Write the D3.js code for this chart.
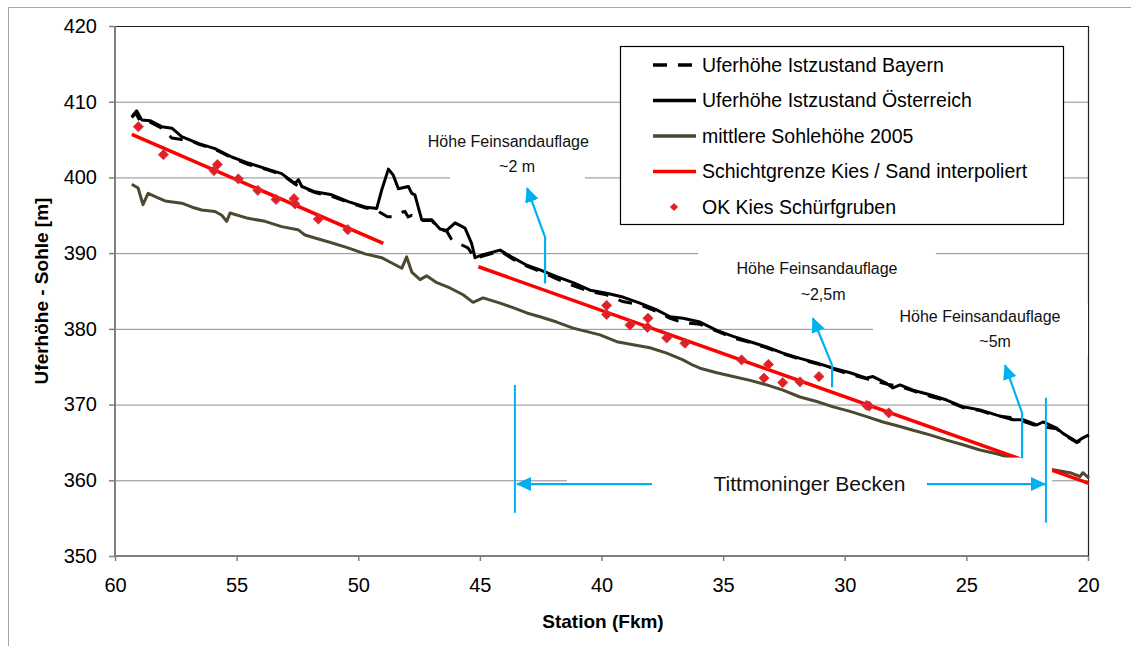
<!DOCTYPE html>
<html>
<head>
<meta charset="utf-8">
<script src="https://d3js.org/d3.v7.min.js"></script>
<style>
  body { margin: 0; background: #fff; }
  text { font-family: "Liberation Sans", Arial, sans-serif; }
</style>
</head>
<body>
<svg id="chart" width="1131" height="646"></svg>
<script>
// ticks
var kmTicks = [60, 55, 50, 45, 40, 35, 30, 25, 20];
var elevTicks = [350, 360, 370, 380, 390, 400, 410, 420];

// Uferhöhe Istzustand Bayern  [Fkm, m]
var uferBayern = [
  [59.31,407.9],[59.15,408.5],[58.95,407.3],[58.56,407.3],[58.08,406.5],[57.66,405.2],[57.26,405.0],
  [56.95,405.0],[56.58,404.4],[55.89,403.7],[55.20,402.6],[54.52,401.7],[53.83,401.1],[53.15,400.4],
  [52.60,399.1],[52.32,398.7],[51.78,398.0],[51.09,397.5],[50.41,396.7],[49.72,396.0],[49.24,395.7],
  [49.11,395.4],[48.80,394.8],[48.61,394.8],[48.40,395.1],[48.20,395.4],[48.08,395.5],[47.95,394.8],
  [47.80,395.0],[47.39,394.3],[46.98,394.3],[46.64,393.1],[46.36,392.9],[46.15,391.7],[45.82,391.2],
  [45.49,390.7],[45.20,389.3],[44.87,389.6],[44.17,390.3],[43.64,389.2],[43.07,388.3],[42.53,387.6],
  [41.84,386.6],[41.17,385.7],[40.47,384.9],[39.79,384.5],[39.12,383.6],[38.42,383.2],[37.73,382.3],
  [37.18,381.4],[36.65,380.8],[35.95,380.6],[35.26,379.7],[34.59,378.8],[33.89,378.2],[33.21,377.5],
  [32.54,376.7],[31.84,376.0],[31.15,375.4],[30.48,374.7],[29.78,374.0],[29.10,373.4],[28.28,372.7],
  [27.73,372.4],[27.19,371.8],[26.50,371.1],[25.81,370.5],[25.14,369.6],[24.44,369.2],[23.75,368.5],
  [23.20,368.3],[23.05,367.6],[22.67,367.8],[22.11,367.2],[21.29,366.8],[21.03,366.1],[20.46,365.0],
  [19.96,365.8]
];

// Uferhöhe Istzustand Österreich
var uferOesterreich = [
  [59.31,408.0],[59.11,408.8],[58.90,407.6],[58.56,407.5],[58.08,406.7],[57.66,406.5],[57.26,405.4],
  [56.58,404.5],[55.89,403.8],[55.20,402.7],[54.52,401.9],[53.83,401.2],[53.15,400.5],[52.60,399.2],
  [52.46,399.7],[52.32,398.8],[51.78,398.1],[51.09,397.7],[50.41,396.8],[49.72,396.1],[49.24,395.9],
  [49.04,398.3],[48.76,401.1],[48.56,400.3],[48.35,398.5],[47.94,398.8],[47.80,397.9],[47.67,397.7],
  [47.39,394.4],[46.98,394.4],[46.64,393.2],[46.36,393.0],[46.02,394.0],[45.61,393.3],[45.34,391.3],
  [45.20,389.4],[44.87,389.8],[44.17,390.4],[43.64,389.4],[43.07,388.4],[42.53,387.8],[41.84,386.9],
  [41.17,386.1],[40.47,385.1],[39.79,384.7],[39.12,384.2],[38.42,383.4],[37.73,382.5],[37.18,381.6],
  [36.65,381.4],[35.95,380.9],[35.26,379.8],[34.59,379.0],[33.89,378.3],[33.21,377.6],[32.54,376.8],
  [31.84,376.1],[31.15,375.5],[30.48,374.8],[29.78,374.2],[29.10,373.5],[28.84,373.7],[28.28,372.8],
  [28.02,372.2],[27.73,372.6],[27.19,371.9],[26.50,371.3],[25.81,370.6],[25.14,369.7],[24.44,369.3],
  [23.75,368.6],[23.08,368.0],[22.67,368.0],[22.11,367.3],[21.85,367.7],[21.29,366.9],[21.03,366.2],
  [20.46,365.1],[20.21,365.6],[19.96,366.0]
];

// mittlere Sohlehöhe 2005
var sohle2005 = [
  [59.31,399.1],[59.05,398.6],[58.85,396.4],[58.64,397.9],[58.23,397.3],[57.94,396.9],[57.26,396.6],
  [56.85,396.1],[56.44,395.7],[55.89,395.5],[55.61,395.0],[55.41,394.2],[55.27,395.3],[54.53,394.6],
  [53.83,394.2],[53.15,393.5],[52.48,393.1],[52.19,392.4],[51.78,392.0],[51.24,391.5],[50.42,390.7],
  [49.72,389.9],[49.04,389.4],[48.62,388.7],[48.21,388.0],[48.01,389.5],[47.80,387.5],[47.46,386.5],
  [47.19,387.0],[46.77,386.1],[46.23,385.4],[45.69,384.5],[45.28,383.5],[44.87,384.1],[44.17,383.4],
  [43.64,382.8],[43.07,382.1],[42.53,381.6],[41.84,380.9],[41.17,380.1],[40.06,379.2],[39.37,378.3],
  [38.70,377.9],[38.01,377.5],[37.32,376.8],[36.65,375.9],[36.24,375.2],[35.95,374.8],[35.26,374.2],
  [34.59,373.7],[33.89,373.2],[33.21,372.6],[32.54,371.9],[31.84,371.0],[31.15,370.4],[30.48,369.7],
  [29.78,369.1],[29.10,368.4],[28.43,367.7],[27.73,367.1],[27.19,366.6],[26.50,366.0],[25.81,365.3],
  [25.14,364.7],[24.44,364.0],[23.75,363.5],[23.21,363.0],[22.38,362.3],[21.44,361.4],[20.74,361.0],
  [20.33,360.5],[20.21,361.0],[19.96,360.3]
];

// Schichtgrenze Kies / Sand interpoliert (two segments)
var schichtgrenze = [[59.31,405.7],[48.97,391.3],null,[45.06,388.2],[19.96,359.6]];

// OK Kies Schürfgruben
var schuerfgruben = [
  [59.04,406.7],[58.01,403.0],[55.93,400.9],[55.79,401.7],[54.93,399.8],[54.13,398.3],[53.38,397.1],
  [52.64,397.2],[52.60,396.5],[51.64,394.5],[50.43,393.1],[39.79,383.1],[39.79,381.9],[38.83,380.5],
  [38.09,381.4],[38.11,380.2],[37.32,378.8],[36.57,378.1],[34.24,375.9],[33.14,375.3],[33.32,373.5],
  [32.55,372.9],[31.84,373.0],[31.06,373.7],[29.10,369.9],[29.00,369.8],[28.19,368.9]
];

var legendLabels = [
  "Uferhöhe Istzustand Bayern",
  "Uferhöhe Istzustand Österreich",
  "mittlere Sohlehöhe 2005",
  "Schichtgrenze Kies / Sand interpoliert",
  "OK Kies Schürfgruben"
];

// Textfelder: weiße Hintergründe (Fkm / m)
var textBoxes = [
  {x0: 46.23, x1: 40.68, y0: 406.5, y1: 399.7},
  {x0: 36.03, x1: 26.25, y0: 390.4, y1: 383.1},
  {x0: 28.84, x1: 20.0, y0: 383.4, y1: 376.5},
  {x0: 41.42, x1: 21.48, y0: 363.0, y1: 356.1}
];
var noteTexts = [
  {km: 43.83, m: 404.7, text: "Höhe Feinsandauflage", size: 16},
  {km: 43.47, m: 401.4, text: "~2 m", size: 16},
  {km: 31.14, m: 388.0, text: "Höhe Feinsandauflage", size: 16},
  {km: 30.89, m: 384.6, text: "~2,5m", size: 16},
  {km: 24.44, m: 381.6, text: "Höhe Feinsandauflage", size: 16},
  {km: 23.82, m: 378.3, text: "~5m", size: 16},
  {km: 31.45, m: 359.5, text: "Tittmoninger Becken", size: 21}
];
var blueLines = [
  [[43.56,372.6],[43.56,355.7]],
  [[21.73,370.9],[21.73,354.4]]
];
var blueArrows = [
  [[42.32,386.0],[42.32,392.1],[43.06,398.6]],
  [[30.52,372.3],[30.52,375.2],[31.31,381.4]],
  [[22.71,362.9],[22.71,368.9],[23.41,375.2]],
  [[37.92,359.5],[43.47,359.5]],
  [[26.62,359.5],[21.77,359.5]]
];

var svg = d3.select("#chart");

var x = d3.scaleLinear().domain([60, 20]).range([115, 1088]);
var y = d3.scaleLinear().domain([350, 420]).range([556, 26]);

// chart border
svg.append("rect").attr("x", 8.5).attr("y", 7.5).attr("width", 1140).attr("height", 660)
  .attr("fill", "#fff").attr("stroke", "#a6a6a6").attr("stroke-width", 1);

var defs = svg.append("defs");
defs.append("marker").attr("id", "arrow")
  .attr("markerUnits", "userSpaceOnUse")
  .attr("viewBox", "0 0 15 14").attr("refX", 14).attr("refY", 7)
  .attr("markerWidth", 15).attr("markerHeight", 14).attr("orient", "auto")
  .append("path").attr("d", "M0,0L15,7L0,14Z").attr("fill", "#00b0f0");

// gridlines
svg.append("g").selectAll("line").data(elevTicks.filter(function(d){ return d > 350 && d < 420; }))
  .enter().append("line")
    .attr("x1", x(60)).attr("x2", x(20))
    .attr("y1", function(d){ return y(d) + 0.5; }).attr("y2", function(d){ return y(d) + 0.5; })
    .attr("stroke", "#8c8c8c").attr("stroke-width", 1);

// plot frame top/right
svg.append("path")
  .attr("d", "M" + x(60) + "," + (y(420) + 0.5) + "H" + (x(20) + 0.5) + "V" + y(350))
  .attr("fill", "none").attr("stroke", "#222").attr("stroke-width", 1.2);

var line = d3.line()
  .defined(function(d){ return d; })
  .x(function(d){ return x(d[0]); })
  .y(function(d){ return y(d[1]); });

svg.append("path").datum(uferBayern).attr("d", line)
  .attr("fill", "none").attr("stroke", "#000").attr("stroke-width", 3)
  .attr("stroke-dasharray", "14,11");
svg.append("path").datum(uferOesterreich).attr("d", line)
  .attr("fill", "none").attr("stroke", "#000").attr("stroke-width", 3).attr("stroke-linejoin", "round");
svg.append("path").datum(sohle2005).attr("d", line)
  .attr("fill", "none").attr("stroke", "#4d4930").attr("stroke-width", 3).attr("stroke-linejoin", "round");
svg.append("path").datum(schichtgrenze).attr("d", line)
  .attr("fill", "none").attr("stroke", "#ff0000").attr("stroke-width", 3.5);

var diamond = d3.symbol().type(d3.symbolSquare).size(52);
svg.append("g").selectAll("path").data(schuerfgruben).enter().append("path")
  .attr("d", diamond)
  .attr("transform", function(d){ return "translate(" + x(d[0]) + "," + y(d[1]) + ") rotate(45)"; })
  .attr("fill", "#e31e24").attr("stroke", "#c8454a").attr("stroke-width", 0.8);

// white text boxes
svg.append("g").selectAll("rect").data(textBoxes).enter().append("rect")
  .attr("x", function(d){ return x(d.x0); })
  .attr("y", function(d){ return y(d.y0); })
  .attr("width", function(d){ return x(d.x1) - x(d.x0); })
  .attr("height", function(d){ return y(d.y1) - y(d.y0); })
  .attr("fill", "#fff");

svg.append("g").selectAll("text").data(noteTexts).enter().append("text")
  .attr("x", function(d){ return x(d.km); })
  .attr("y", function(d){ return y(d.m); })
  .attr("dy", "0.35em").attr("text-anchor", "middle")
  .style("font-size", function(d){ return d.size + "px"; })
  .attr("fill", "#111")
  .text(function(d){ return d.text; });

// blue lines and arrows
svg.append("g").selectAll("path").data(blueLines).enter().append("path")
  .attr("d", line).attr("fill", "none").attr("stroke", "#00b0f0").attr("stroke-width", 2);
svg.append("g").selectAll("path").data(blueArrows).enter().append("path")
  .attr("d", line).attr("fill", "none").attr("stroke", "#00b0f0").attr("stroke-width", 2.2)
  .attr("marker-end", "url(#arrow)");

// axes
var yAxis = svg.append("g").attr("transform", "translate(" + x(60) + ",0)")
  .call(d3.axisLeft(y).tickValues(elevTicks).tickSize(6).tickPadding(12).tickFormat(d3.format("d")));
var xAxis = svg.append("g").attr("transform", "translate(0," + y(350) + ")")
  .call(d3.axisBottom(x).tickValues(kmTicks).tickSize(5).tickPadding(17).tickFormat(d3.format("d")));
[yAxis, xAxis].forEach(function(a){
  a.select(".domain").attr("stroke", "#7f7f7f").attr("stroke-width", 2);
  a.selectAll(".tick line").attr("stroke", "#7f7f7f").attr("stroke-width", 1.5);
  a.selectAll(".tick text").attr("fill", "#000").style("font-size", "20px")
    .style("font-family", "'Liberation Sans', Arial, sans-serif");
});
yAxis.select(".domain").attr("d", "M0," + y(420) + "V" + y(350));
xAxis.select(".domain").attr("d", "M" + x(60) + ",0H" + x(20));

svg.append("text").attr("x", 603).attr("y", 621).attr("dy", "0.35em")
  .attr("text-anchor", "middle").style("font-size", "19px").style("font-weight", "bold")
  .text("Station (Fkm)");
svg.append("text").attr("transform", "translate(41,291) rotate(-90)").attr("dy", "0.35em")
  .attr("text-anchor", "middle").style("font-size", "19px").style("font-weight", "bold")
  .text("Uferhöhe - Sohle [m]");

// legend
var lg = svg.append("g").attr("transform", "translate(620,46)");
lg.append("rect").attr("x", 0.5).attr("y", 0.5).attr("width", 443).attr("height", 178)
  .attr("fill", "#fff").attr("stroke", "#000").attr("stroke-width", 1.2);
var rowY = d3.scalePoint().domain(legendLabels).range([19, 161]);
var styles = [
  {stroke: "#000", dash: "14,11"},
  {stroke: "#000", dash: null},
  {stroke: "#4d4930", dash: null},
  {stroke: "#ff0000", dash: null},
  null
];
legendLabels.forEach(function(lab, i){
  var yy = rowY(lab);
  if (styles[i]) {
    lg.append("line").attr("x1", 33).attr("x2", 76).attr("y1", yy).attr("y2", yy)
      .attr("stroke", styles[i].stroke).attr("stroke-width", 3.5)
      .attr("stroke-dasharray", styles[i].dash);
  } else {
    lg.append("path").attr("d", d3.symbol().type(d3.symbolSquare).size(34))
      .attr("transform", "translate(54," + yy + ") rotate(45)")
      .attr("fill", "#e31e24");
  }
  lg.append("text").attr("x", 82).attr("y", yy).attr("dy", "0.35em")
    .style("font-size", "19.5px").attr("fill", "#000").text(lab);
});
</script>
</body>
</html>
